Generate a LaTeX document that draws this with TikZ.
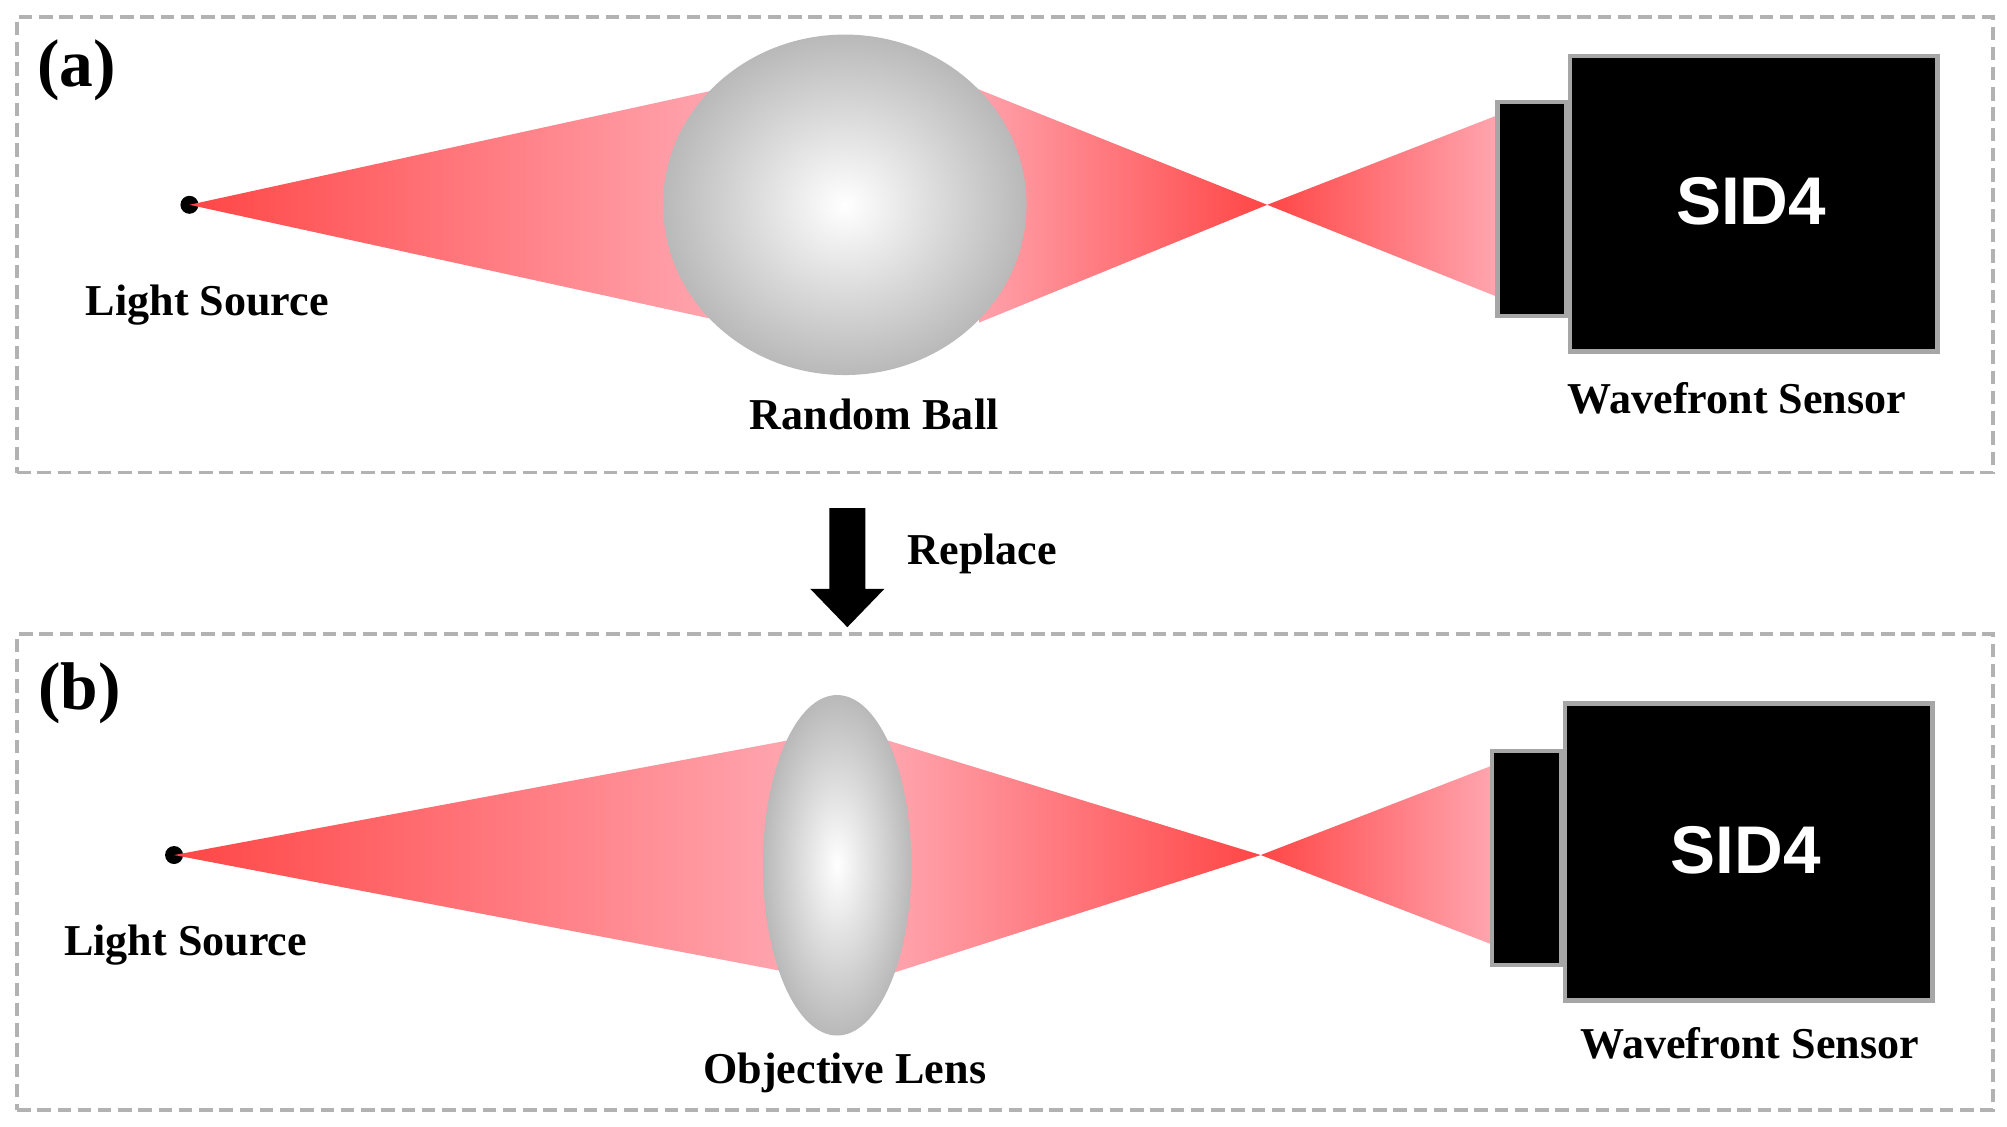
\documentclass[tikz,border=0pt]{standalone}
\usepackage{fontspec}
\setmainfont{Liberation Serif}
\newfontfamily\sidfont{Liberation Sans}
\begin{document}
\begin{tikzpicture}[x=0.02cm,y=-0.02cm,
  frame/.style={draw=gray!60,dashed,line width=1.5pt,dash pattern=on 6pt off 3pt},
  lbl/.style={font=\fontsize{19.6}{23}\selectfont\bfseries},
  plbl/.style={font=\fontsize{30}{34}\selectfont\bfseries},
  cam/.style={fill=black,draw=gray!70,line width=2pt},
  sid/.style={text=white,font=\sidfont\fontsize{30}{36}\selectfont\bfseries},
  dot/.style={circle,fill=black,inner sep=0pt,minimum size=8pt}]
\useasboundingbox (0,0) rectangle (1568,880);
\definecolor{rd}{RGB}{255,70,70}
\definecolor{pk}{RGB}{255,165,175}
% ---------- (a)
\node[frame,minimum width=30.88cm,minimum height=7.12cm,anchor=north west] (fa) at (12,12) {};
\node[dot] (sa) at (148,160) {};
\shade[left color=rd,right color=pk] (148,160) -- (560,70) -- (560,250) -- cycle;
\shade[left color=pk,right color=rd] (755,66) -- (990,160) -- (765,252) -- cycle;
\shade[left color=rd,right color=pk] (990,160) -- (1170,90) -- (1170,232) -- cycle;
\shade[inner color=white,outer color=gray!55] (660,160) ellipse (142 and 133);
\node[cam,minimum width=1.08cm,minimum height=3.34cm,anchor=north west] (ca) at (1168,78) {};
\node[cam,minimum width=5.74cm,minimum height=4.62cm,anchor=north west] (ka) at (1225,42) {};
\node[sid] at (1368,157) {SID4};
\node[plbl] at (60,55) {(a)};
\node[lbl] at (162,238) {Light Source};
\node[lbl] at (683,324) {Random Ball};
\node[lbl] at (1357,311) {Wavefront Sensor};
% ---------- arrow
\fill (648,397) -- (676,397) -- (676,460) -- (691,460) -- (662,490) -- (633,460) -- (648,460) -- cycle;
\node[lbl,anchor=west] at (703,433) {Replace};
% ---------- (b)
\node[frame,minimum width=30.88cm,minimum height=7.44cm,anchor=north west] (fb) at (12,494) {};
\node[dot] (sb) at (136,668) {};
\shade[left color=rd,right color=pk] (136,668) -- (618,578) -- (618,760) -- cycle;
\shade[left color=pk,right color=rd] (692,578) -- (985,668) -- (698,760) -- cycle;
\shade[left color=rd,right color=pk] (985,668) -- (1166,598) -- (1166,738) -- cycle;
\shade[inner color=white,outer color=gray!55] (654,676) ellipse (58 and 133);
\node[cam,minimum width=1.08cm,minimum height=3.34cm,anchor=north west] (cb) at (1164,585) {};
\node[cam,minimum width=5.74cm,minimum height=4.64cm,anchor=north west] (kb) at (1221,548) {};
\node[sid] at (1364,664) {SID4};
\node[plbl] at (62,542) {(b)};
\node[lbl] at (145,738) {Light Source};
\node[lbl] at (660,838) {Objective Lens};
\node[lbl] at (1367,815) {Wavefront Sensor};
\end{tikzpicture}
\end{document}
